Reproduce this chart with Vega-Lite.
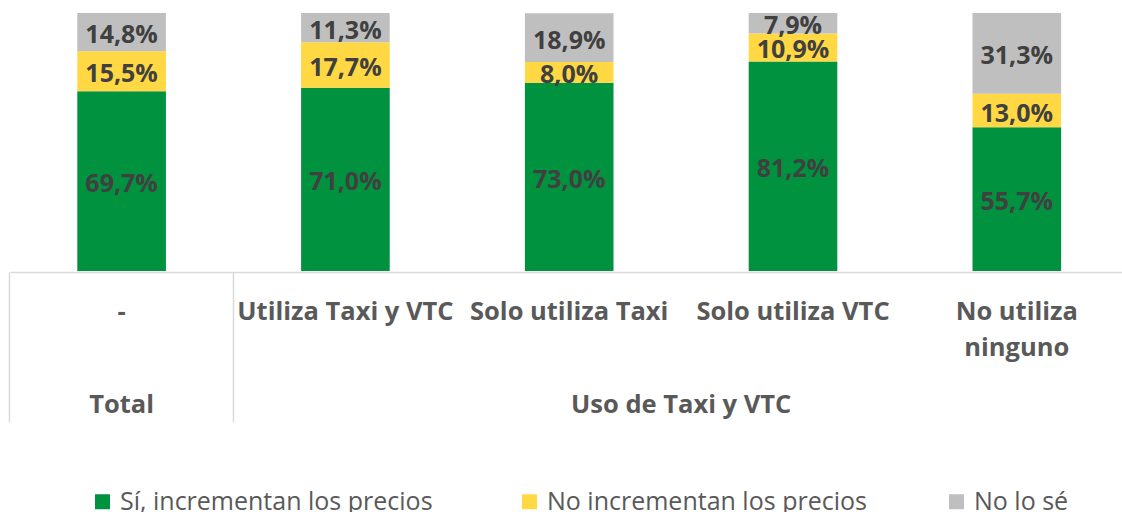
{
  "$schema": "https://vega.github.io/schema/vega-lite/v6.json",
  "width": 1112,
  "height": 258,
  "autosize": {"type": "none"},
  "padding": {"left": 10, "top": 13, "right": 0, "bottom": 241},
  "data": {
    "values": [
      {"cat": "-", "serie": "Sí, incrementan los precios", "orden": 1, "v": 0.697},
      {"cat": "-", "serie": "No incrementan los precios", "orden": 2, "v": 0.155},
      {"cat": "-", "serie": "No lo sé", "orden": 3, "v": 0.148},
      {"cat": "Utiliza Taxi y VTC", "serie": "Sí, incrementan los precios", "orden": 1, "v": 0.710},
      {"cat": "Utiliza Taxi y VTC", "serie": "No incrementan los precios", "orden": 2, "v": 0.177},
      {"cat": "Utiliza Taxi y VTC", "serie": "No lo sé", "orden": 3, "v": 0.113},
      {"cat": "Solo utiliza Taxi", "serie": "Sí, incrementan los precios", "orden": 1, "v": 0.730},
      {"cat": "Solo utiliza Taxi", "serie": "No incrementan los precios", "orden": 2, "v": 0.080},
      {"cat": "Solo utiliza Taxi", "serie": "No lo sé", "orden": 3, "v": 0.189},
      {"cat": "Solo utiliza VTC", "serie": "Sí, incrementan los precios", "orden": 1, "v": 0.812},
      {"cat": "Solo utiliza VTC", "serie": "No incrementan los precios", "orden": 2, "v": 0.109},
      {"cat": "Solo utiliza VTC", "serie": "No lo sé", "orden": 3, "v": 0.079},
      {"cat": "No utiliza ninguno", "serie": "Sí, incrementan los precios", "orden": 1, "v": 0.557},
      {"cat": "No utiliza ninguno", "serie": "No incrementan los precios", "orden": 2, "v": 0.130},
      {"cat": "No utiliza ninguno", "serie": "No lo sé", "orden": 3, "v": 0.313}
    ]
  },
  "layer": [
    {
      "mark": {"type": "bar"},
      "encoding": {
        "x": {
          "field": "cat", "type": "nominal", "sort": null,
          "scale": {"domain": ["-", "Utiliza Taxi y VTC", "Solo utiliza Taxi", "Solo utiliza VTC", "No utiliza ninguno"], "paddingInner": 0.604, "paddingOuter": 0.2864, "align": 0.525},
          "axis": {
            "orient": "bottom", "title": null, "labelAngle": 0, "ticks": false, "offset": 1,
            "domainColor": "#d9d9d9", "domainWidth": 1.5,
            "labelFont": "Open Sans", "labelFontWeight": "bold", "labelFontSize": 25.5, "labelColor": "#595959",
            "labelPadding": 27, "labelLineHeight": 36, "labelLimit": 400, "labelOverlap": false, "labelBound": false, "labelFlush": false,
            "labelExpr": "datum.value == 'No utiliza ninguno' ? ['No utiliza', 'ninguno'] : datum.label"
          }
        },
        "y": {"field": "v", "type": "quantitative", "stack": "zero", "scale": {"domain": [0, 1], "nice": false}, "axis": null},
        "order": {"field": "orden", "type": "quantitative", "sort": "ascending"},
        "color": {
          "field": "serie", "type": "nominal",
          "sort": ["Sí, incrementan los precios", "No incrementan los precios", "No lo sé"],
          "scale": {"domain": ["Sí, incrementan los precios", "No incrementan los precios", "No lo sé"], "range": ["#00923F", "#FFD843", "#BFBFBF"]},
          "legend": {
            "title": null, "orient": "none", "legendX": 80, "legendY": 476, "direction": "horizontal", "columns": 3, "gridAlign": "all", "columnPadding": 77,
            "symbolType": "square", "symbolSize": 225, "symbolStrokeWidth": 0,
            "labelFont": "Open Sans", "labelFontSize": 25, "labelColor": "#595959", "labelOffset": 5, "labelLimit": 500
          }
        }
      }
    },
    {
      "mark": {"type": "text", "font": "Open Sans", "fontWeight": "bold", "fontSize": 25, "baseline": "middle", "dy": 3, "color": "#404040"},
      "encoding": {
        "x": {
          "field": "cat", "type": "nominal", "sort": null,
          "axis": {
            "orient": "bottom", "title": null, "offset": 1,
            "values": ["-", "Utiliza Taxi y VTC", "Solo utiliza Taxi"],
            "bandPosition": -0.763,
            "domain": false,
            "ticks": true, "tickSize": 150, "tickWidth": 1.5, "tickColor": "#d9d9d9",
            "tickOpacity": {"condition": {"test": "datum.value == 'Solo utiliza Taxi'", "value": 0}, "value": 1},
            "labelAngle": 0, "labelFont": "Open Sans", "labelFontWeight": "bold", "labelFontSize": 25.5, "labelColor": "#595959",
            "labelPadding": -30, "labelLimit": 400, "labelOverlap": false, "labelBound": false, "labelFlush": false,
            "labelOffset": {"condition": {"test": "datum.value == 'Solo utiliza Taxi'", "value": 112}, "value": 0},
            "labelExpr": "datum.value == '-' ? 'Total' : (datum.value == 'Solo utiliza Taxi' ? 'Uso de Taxi y VTC' : '')"
          }
        },
        "y": {"field": "v", "type": "quantitative", "stack": "zero", "bandPosition": 0.5},
        "detail": {"field": "serie", "type": "nominal"},
        "order": {"field": "orden", "type": "quantitative", "sort": "ascending"},
        "text": {"field": "v", "type": "quantitative", "format": ".1%"}
      }
    }
  ],
  "resolve": {"axis": {"x": "independent"}},
  "config": {
    "view": {"stroke": null},
    "locale": {"number": {"decimal": ",", "thousands": ".", "grouping": [3], "currency": ["", " €"]}}
  }
}
